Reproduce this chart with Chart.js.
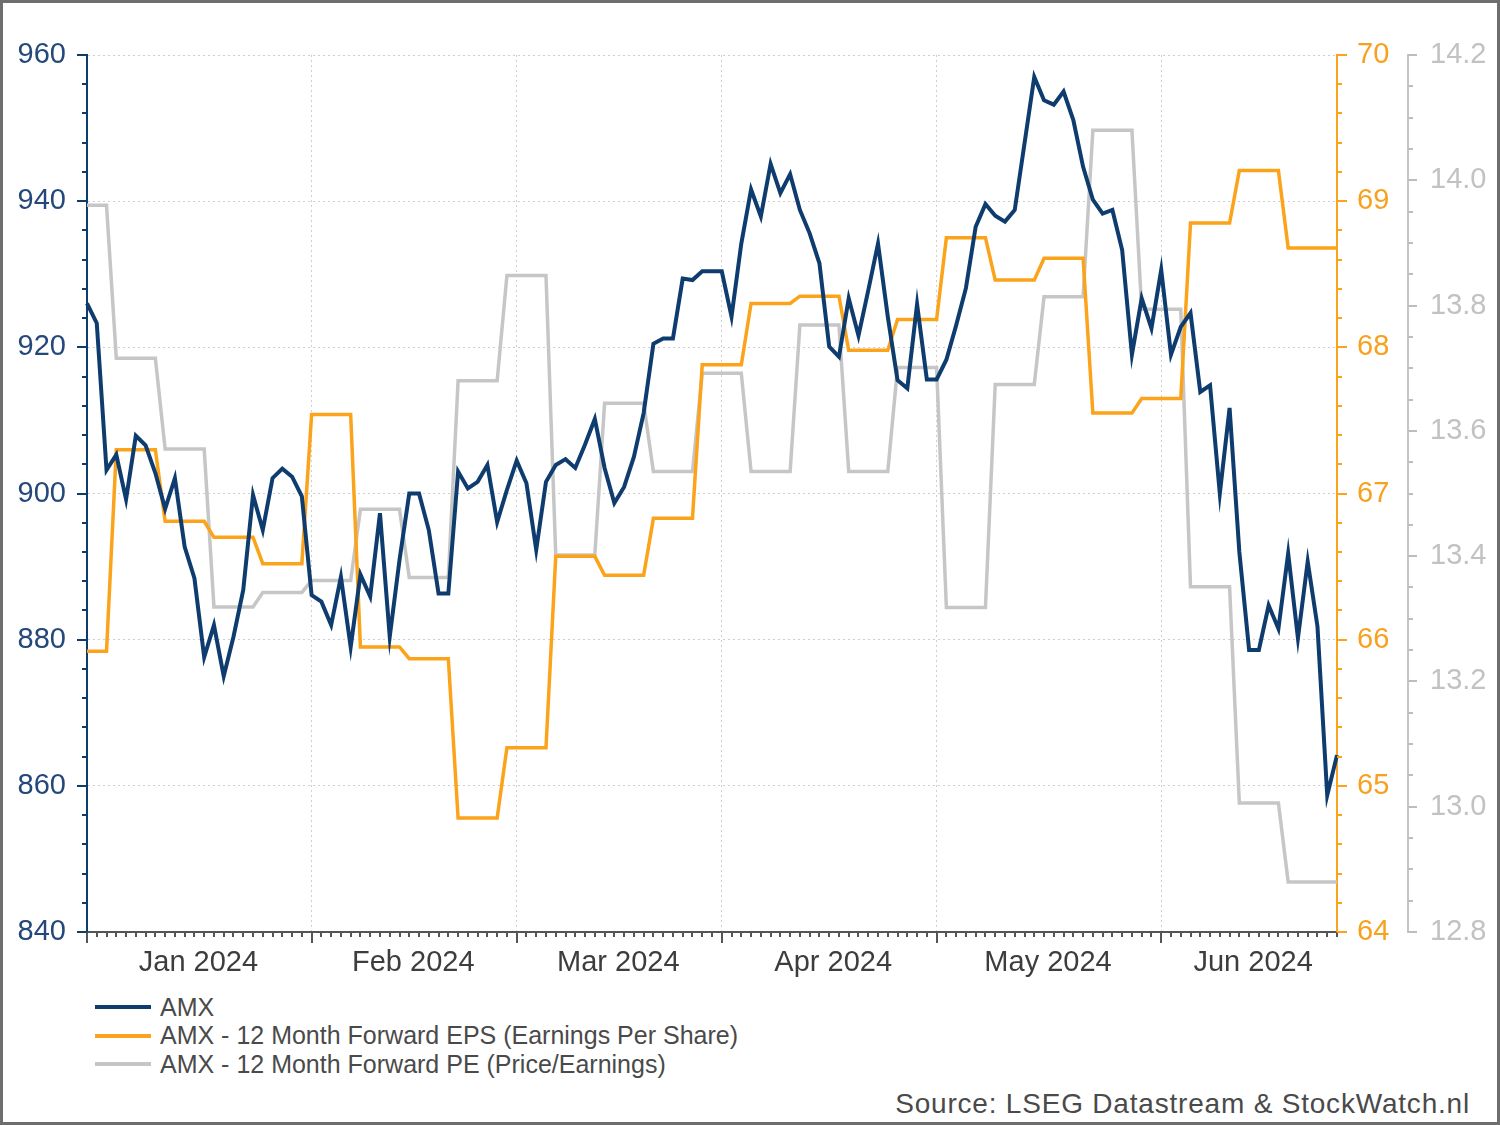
<!DOCTYPE html>
<html>
<head>
<meta charset="utf-8">
<script src="https://cdn.jsdelivr.net/npm/chart.js@4.4.1/dist/chart.umd.min.js"></script>
<style>
  html, body { margin: 0; padding: 0; background: #fff; }
  #page { position: relative; width: 1500px; height: 1125px; background: #fff; overflow: hidden;
          font-family: "Liberation Sans", Arial, sans-serif; }
  #wrap { position: absolute; left: 0; top: 0; width: 1500px; height: 990px; }
  #frame { position: absolute; left: 0; top: 0; width: 1500px; height: 1125px; box-sizing: border-box;
           border: 3px solid #6e6e6e; pointer-events: none; }
  #legend { position: absolute; left: 95px; top: 993px; font-size: 25px; color: #4a4a4a; }
  .item { display: flex; align-items: center; height: 28.5px; white-space: nowrap; }
  .swatch { width: 56px; height: 4px; margin-right: 9px; }
  #source { position: absolute; right: 30px; top: 1088px; font-size: 28px; letter-spacing: 0.8px;
            color: #4a4a4a; white-space: nowrap; }
</style>
</head>
<body>
<div id="page">
  <div id="wrap"><canvas id="chart"></canvas></div>
  <div id="legend"></div>
  <div id="source">Source: LSEG Datastream &amp; StockWatch.nl</div>
  <div id="frame"></div>
</div>
<script>
// --- data (weekdays, 1 Jan 2024 - 27 Jun 2024) ---
const dates = [
  '2024-01-01','2024-01-02','2024-01-03','2024-01-04','2024-01-05','2024-01-08','2024-01-09','2024-01-10',
  '2024-01-11','2024-01-12','2024-01-15','2024-01-16','2024-01-17','2024-01-18','2024-01-19','2024-01-22',
  '2024-01-23','2024-01-24','2024-01-25','2024-01-26','2024-01-29','2024-01-30','2024-01-31',
  '2024-02-01','2024-02-02','2024-02-05','2024-02-06','2024-02-07','2024-02-08','2024-02-09','2024-02-12',
  '2024-02-13','2024-02-14','2024-02-15','2024-02-16','2024-02-19','2024-02-20','2024-02-21','2024-02-22',
  '2024-02-23','2024-02-26','2024-02-27','2024-02-28','2024-02-29',
  '2024-03-01','2024-03-04','2024-03-05','2024-03-06','2024-03-07','2024-03-08','2024-03-11','2024-03-12',
  '2024-03-13','2024-03-14','2024-03-15','2024-03-18','2024-03-19','2024-03-20','2024-03-21','2024-03-22',
  '2024-03-25','2024-03-26','2024-03-27','2024-03-28','2024-03-29',
  '2024-04-01','2024-04-02','2024-04-03','2024-04-04','2024-04-05','2024-04-08','2024-04-09','2024-04-10',
  '2024-04-11','2024-04-12','2024-04-15','2024-04-16','2024-04-17','2024-04-18','2024-04-19','2024-04-22',
  '2024-04-23','2024-04-24','2024-04-25','2024-04-26','2024-04-29','2024-04-30',
  '2024-05-01','2024-05-02','2024-05-03','2024-05-06','2024-05-07','2024-05-08','2024-05-09','2024-05-10',
  '2024-05-13','2024-05-14','2024-05-15','2024-05-16','2024-05-17','2024-05-20','2024-05-21','2024-05-22',
  '2024-05-23','2024-05-24','2024-05-27','2024-05-28','2024-05-29','2024-05-30','2024-05-31',
  '2024-06-03','2024-06-04','2024-06-05','2024-06-06','2024-06-07','2024-06-10','2024-06-11','2024-06-12',
  '2024-06-13','2024-06-14','2024-06-17','2024-06-18','2024-06-19','2024-06-20','2024-06-21','2024-06-24',
  '2024-06-25','2024-06-26','2024-06-27'
];

// first weekday of each month (index in dates) and where the month name sits
const monthStarts = [0, 23, 44, 65, 87, 110];
const monthMid    = [11, 33, 54, 76, 98, 119];
const monthNames  = ['Jan 2024', 'Feb 2024', 'Mar 2024', 'Apr 2024', 'May 2024', 'Jun 2024'];

const amx = [
  926.0, 923.3, 903.2, 905.3, 899.2, 907.9, 906.6, 902.8, 897.9, 902.1,
  892.7, 888.4, 877.6, 882.0, 875.0, 880.4, 886.8, 899.8, 895.0, 902.1,
  903.4, 902.3, 899.6, 886.1, 885.2, 882.0, 888.6, 879.0, 888.9, 885.9,
  897.3, 880.4, 890.9, 900.0, 900.0, 895.0, 886.3, 886.3, 903.0, 900.7,
  901.6, 903.9, 896.1, 900.5, 904.5, 901.4, 892.3, 901.6, 903.9, 904.7,
  903.5, 906.7, 910.2, 903.5, 898.7, 900.9, 905.0, 911.0, 920.5, 921.2,
  921.2, 929.4, 929.2, 930.4, 930.4, 930.4, 924.2, 934.2, 941.6, 937.9,
  945.1, 941.1, 943.7, 938.8, 935.6, 931.5, 920.1, 918.7, 926.7, 921.6,
  927.8, 934.2, 924.2, 915.5, 914.4, 925.9, 915.6, 915.6, 918.3, 923.0,
  928.1, 936.5, 939.6, 938.0, 937.2, 938.8, 947.9, 957.0, 953.8, 953.2,
  955.0, 951.1, 944.7, 940.2, 938.3, 938.8, 933.3, 919.0, 926.7, 922.6,
  930.6, 919.0, 922.8, 924.7, 913.9, 914.8, 900.0, 911.7, 892.0, 878.6,
  878.6, 884.7, 881.5, 891.8, 880.2, 890.7, 881.8, 858.7, 864.2
];

// 12m forward EPS, updated weekly (Thursdays)
const eps = [
  65.92, 65.92, 65.92,
  67.30, 67.30, 67.30, 67.30, 67.30,   66.81, 66.81, 66.81, 66.81, 66.81,
  66.70, 66.70, 66.70, 66.70, 66.70,   66.52, 66.52, 66.52, 66.52, 66.52,
  67.54, 67.54, 67.54, 67.54, 67.54,   65.95, 65.95, 65.95, 65.95, 65.95,
  65.87, 65.87, 65.87, 65.87, 65.87,   64.78, 64.78, 64.78, 64.78, 64.78,
  65.26, 65.26, 65.26, 65.26, 65.26,   66.57, 66.57, 66.57, 66.57, 66.57,
  66.44, 66.44, 66.44, 66.44, 66.44,   66.83, 66.83, 66.83, 66.83, 66.83,
  67.88, 67.88, 67.88, 67.88, 67.88,   68.30, 68.30, 68.30, 68.30, 68.30,
  68.35, 68.35, 68.35, 68.35, 68.35,   67.98, 67.98, 67.98, 67.98, 67.98,
  68.19, 68.19, 68.19, 68.19, 68.19,   68.75, 68.75, 68.75, 68.75, 68.75,
  68.46, 68.46, 68.46, 68.46, 68.46,   68.61, 68.61, 68.61, 68.61, 68.61,
  67.55, 67.55, 67.55, 67.55, 67.55,   67.65, 67.65, 67.65, 67.65, 67.65,
  68.85, 68.85, 68.85, 68.85, 68.85,   69.21, 69.21, 69.21, 69.21, 69.21,
  68.68, 68.68, 68.68, 68.68, 68.68, 68.68
];

// 12m forward PE, weekly
const pe = [
  13.96, 13.96, 13.96,
  13.716, 13.716, 13.716, 13.716, 13.716,   13.571, 13.571, 13.571, 13.571, 13.571,
  13.319, 13.319, 13.319, 13.319, 13.319,   13.342, 13.342, 13.342, 13.342, 13.342,
  13.361, 13.361, 13.361, 13.361, 13.361,   13.475, 13.475, 13.475, 13.475, 13.475,
  13.366, 13.366, 13.366, 13.366, 13.366,   13.680, 13.680, 13.680, 13.680, 13.680,
  13.848, 13.848, 13.848, 13.848, 13.848,   13.402, 13.402, 13.402, 13.402, 13.402,
  13.644, 13.644, 13.644, 13.644, 13.644,   13.535, 13.535, 13.535, 13.535, 13.535,
  13.692, 13.692, 13.692, 13.692, 13.692,   13.535, 13.535, 13.535, 13.535, 13.535,
  13.769, 13.769, 13.769, 13.769, 13.769,   13.535, 13.535, 13.535, 13.535, 13.535,
  13.701, 13.701, 13.701, 13.701, 13.701,   13.318, 13.318, 13.318, 13.318, 13.318,
  13.674, 13.674, 13.674, 13.674, 13.674,   13.814, 13.814, 13.814, 13.814, 13.814,
  14.080, 14.080, 14.080, 14.080, 14.080,   13.794, 13.794, 13.794, 13.794, 13.794,
  13.351, 13.351, 13.351, 13.351, 13.351,   13.006, 13.006, 13.006, 13.006, 13.006,
  12.880, 12.880, 12.880, 12.880, 12.880, 12.880
];

// --- styling ---
const NAVY = '#0f3c6e';
const ORANGE = '#fba31a';
const GREY = '#c6c6c6';
const GRID = '#cfcfcf';
const NONE = 'rgba(0,0,0,0)';

Chart.defaults.font.family = '"Liberation Sans", Arial, sans-serif';
Chart.defaults.font.size = 29;

const isStep = (v, step) => Math.abs(v / step - Math.round(v / step)) < 1e-6;

// small tick marks along every axis, longer ones at major ticks
const markSpecs = {
  x:    { color: '#555',   width: 2, major: 11, minor: 5, isMajor: v => monthStarts.includes(v) },
  y:    { color: NAVY,     width: 2, major: 10, minor: 5, isMajor: v => isStep(v, 20) },
  yEps: { color: ORANGE,   width: 2, major: 10, minor: 5, isMajor: v => isStep(v, 1) },
  yPe:  { color: '#bdbdbd', width: 2, major: 9, minor: 5, isMajor: v => isStep(v, 0.2) }
};

const tickMarks = {
  id: 'tickMarks',
  afterDraw(chart) {
    const ctx = chart.ctx;
    Object.entries(markSpecs).forEach(([id, m]) => {
      const sc = chart.scales[id];
      ctx.save();
      ctx.strokeStyle = m.color;
      ctx.lineWidth = m.width;
      ctx.beginPath();
      sc.ticks.forEach((t, i) => {
        const p = Math.round(sc.getPixelForTick(i));
        const len = m.isMajor(t.value) ? m.major : m.minor;
        if (sc.isHorizontal()) {
          ctx.moveTo(p, sc.top); ctx.lineTo(p, sc.top + len);
        } else if (sc.position === 'left') {
          ctx.moveTo(sc.right, p); ctx.lineTo(sc.right - len, p);
        } else {
          ctx.moveTo(sc.left, p); ctx.lineTo(sc.left + len, p);
        }
      });
      ctx.stroke();
      ctx.restore();
    });
  }
};

const chart = new Chart(document.getElementById('chart'), {
  type: 'line',
  data: {
    labels: dates,
    datasets: [
      { label: 'AMX', data: amx, yAxisID: 'y', borderColor: NAVY, backgroundColor: NAVY, borderWidth: 4 },
      { label: 'AMX - 12 Month Forward EPS (Earnings Per Share)', data: eps, yAxisID: 'yEps',
        borderColor: ORANGE, backgroundColor: ORANGE, borderWidth: 3.5 },
      { label: 'AMX - 12 Month Forward PE (Price/Earnings)', data: pe, yAxisID: 'yPe',
        borderColor: GREY, backgroundColor: GREY, borderWidth: 3.5 }
    ]
  },
  options: {
    responsive: true,
    maintainAspectRatio: false,
    animation: false,
    devicePixelRatio: 1,
    layout: { padding: { top: 55, right: 0, bottom: 0, left: 0 } },
    elements: { point: { radius: 0 }, line: { tension: 0 } },
    plugins: { legend: { display: false }, tooltip: { enabled: false } },
    scales: {
      x: {
        type: 'category',
        grid: {
          color: c => (c.index > 0 && monthStarts.includes(c.index)) ? GRID : NONE,
          lineWidth: 1,
          drawTicks: false
        },
        border: { color: '#555', width: 2, dash: [2, 3] },
        ticks: {
          autoSkip: false, maxRotation: 0, minRotation: 0, padding: 14, labelOffset: 4,
          color: '#3d3d3d',
          callback: (v, i) => { const k = monthMid.indexOf(i); return k >= 0 ? monthNames[k] : ''; }
        },
        afterFit: s => { s.height = 58; }
      },
      y: {
        position: 'left', min: 840, max: 960,
        grid: {
          color: c => (c.tick && isStep(c.tick.value, 20) && c.tick.value > 840) ? GRID : NONE,
          lineWidth: 1,
          drawTicks: false
        },
        border: { color: NAVY, width: 2, dash: [2, 3] },
        ticks: {
          stepSize: 4, autoSkip: false, padding: 21, color: '#24487b',
          callback: v => isStep(v, 20) ? String(v) : ''
        },
        afterFit: s => { s.width = 87; }
      },
      yEps: {
        position: 'right', min: 64, max: 70,
        grid: { drawOnChartArea: false, drawTicks: false },
        border: { color: ORANGE, width: 2 },
        ticks: {
          stepSize: 0.2, autoSkip: false, padding: 20, color: '#f7a11e',
          callback: v => isStep(v, 1) ? String(Math.round(v)) : ''
        },
        afterFit: s => { s.width = 71; }
      },
      yPe: {
        position: 'right', min: 12.8, max: 14.2,
        grid: { drawOnChartArea: false, drawTicks: false },
        border: { color: GREY, width: 2 },
        ticks: {
          stepSize: 0.05, autoSkip: false, padding: 22, color: '#c2c2c2',
          callback: v => isStep(v, 0.2) ? v.toFixed(1) : ''
        },
        afterFit: s => { s.width = 92; }
      }
    }
  },
  plugins: [tickMarks]
});

// legend built from the datasets
const legend = document.getElementById('legend');
chart.data.datasets.forEach(ds => {
  const row = document.createElement('div');
  row.className = 'item';
  const sw = document.createElement('span');
  sw.className = 'swatch';
  sw.style.background = ds.borderColor;
  const tx = document.createElement('span');
  tx.textContent = ds.label;
  row.appendChild(sw);
  row.appendChild(tx);
  legend.appendChild(row);
});
</script>
</body>
</html>
